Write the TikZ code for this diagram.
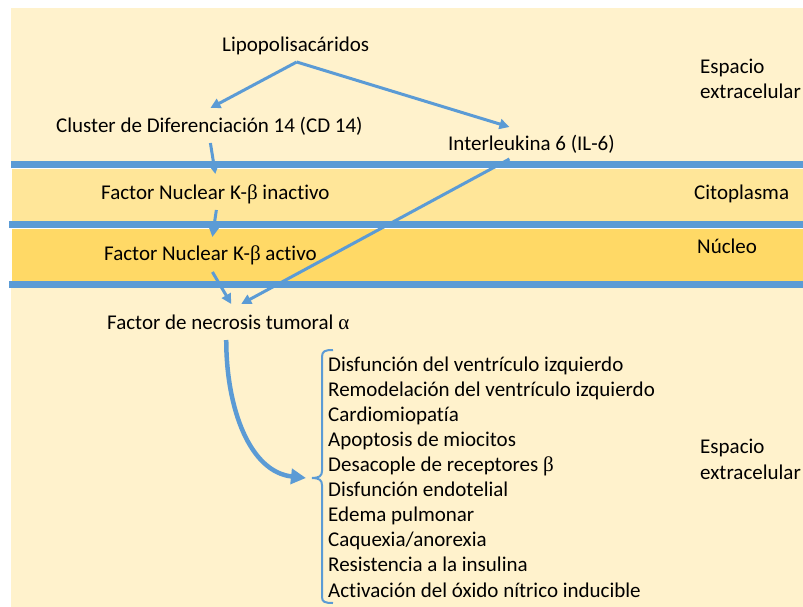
\documentclass[tikz,border=0pt]{standalone}
\usepackage{fontspec}
\setmainfont{Carlito}[RawFeature={-liga;-clig;-dlig}]
\newfontfamily\grk{Liberation Serif}
\usetikzlibrary{arrows.meta}
\definecolor{bgA}{HTML}{FFF2CC}
\definecolor{bgB}{HTML}{FFE699}
\definecolor{bgC}{HTML}{FFD966}
\definecolor{mblue}{HTML}{5B9BD5}
\begin{document}
\begin{tikzpicture}[x=1pt,y=-1pt,
  lbl/.style={anchor=base west, inner sep=0pt, font=\fontsize{21}{25.1}\selectfont},
  arr/.style={draw=mblue, line width=3pt, -{Triangle[length=10pt,width=10pt]}},
  bigarr/.style={draw=mblue, line width=4.5pt, -{Triangle[length=15pt,width=15pt]}},
  band/.style={draw=white, line width=1pt},
  membrane/.style={draw=mblue, line width=7pt}]
\useasboundingbox (0,0) rectangle (803,607);
% backgrounds
\fill[bgA] (11,8) rectangle (803,607);
\filldraw[band, fill=bgB] (11,168) rectangle (803,221);
\filldraw[band, fill=bgC] (11,228) rectangle (803,281);
\draw[membrane] (11,164.5) -- (803,164.5);
\draw[membrane] (9,224.5) -- (803,224.5);
\draw[membrane] (9,284.5) -- (803,284.5);
% labels
\node[lbl] (lps) at (222,52) {Lipopolisacáridos};
\node[lbl] (cd14) at (56,133) {Cluster de Diferenciación 14 (CD 14)};
\node[lbl] (il6) at (448,150) {Interleukina 6 (IL-6)};
\node[lbl] (nfi) at (101,199) {Factor Nuclear K-{\grk β} inactivo};
\node[lbl] (nfa) at (104,260) {Factor Nuclear K-{\grk β} activo};
\node[lbl] (tnf) at (107,329) {Factor de necrosis tumoral {\grk α}};
\node[lbl, align=left] (eff) at (328,597) {Disfunción del ventrículo izquierdo\\
Remodelación del ventrículo izquierdo\\
Cardiomiopatía\\
Apoptosis de miocitos\\
Desacople de receptores {\grk β}\\
Disfunción endotelial\\
Edema pulmonar\\
Caquexia/anorexia\\
Resistencia a la insulina\\
Activación del óxido nítrico inducible};
\node[lbl, align=left, font=\fontsize{21}{25.8}\selectfont] (ext1) at (700,99) {Espacio\\extracelular};
\node[lbl] (cito) at (694,199) {Citoplasma};
\node[lbl] (nuc) at (697,253) {Núcleo};
\node[lbl, align=left, font=\fontsize{21}{25.8}\selectfont] (ext2) at (700,479) {Espacio\\extracelular};
% connectors
\draw[arr] ([shift={(1,10)}]lps.base) -- ([shift={(1,-25)}]cd14.base);
\draw[arr] ([shift={(1,10)}]lps.base) -- ([shift={(-22,-23)}]il6.base);
\draw[arr] ([shift={(1,10)}]cd14.base) -- ([shift={(0,-25)}]nfi.base);
\draw[arr] ([shift={(1,11)}]nfi.base) -- ([shift={(2,-23)}]nfa.base);
\draw[arr] ([shift={(2,12)}]nfa.base) -- ([shift={(3,-25)}]tnf.base);
\draw[arr] ([shift={(-22,9)}]il6.base) -- ([shift={(13,-25)}]tnf.base);
% brace
\coordinate (bt) at (312,478);
\draw[mblue, line width=2pt] (333,350) .. controls (325,350) and (322,351) .. (322,357)
  -- (322,471) .. controls (322,476) and (319,478) .. (bt)
  .. controls (319,478) and (322,480) .. (322,485)
  -- (322,597) .. controls (322,602) and (325,603) .. (333,603);
\coordinate (bend) at (306,478);
\draw[bigarr] ([shift={(-2,11)}]tnf.base) .. controls ([shift={(-2,80)}]tnf.base) and (250,472) .. (bend);
\end{tikzpicture}
\end{document}
